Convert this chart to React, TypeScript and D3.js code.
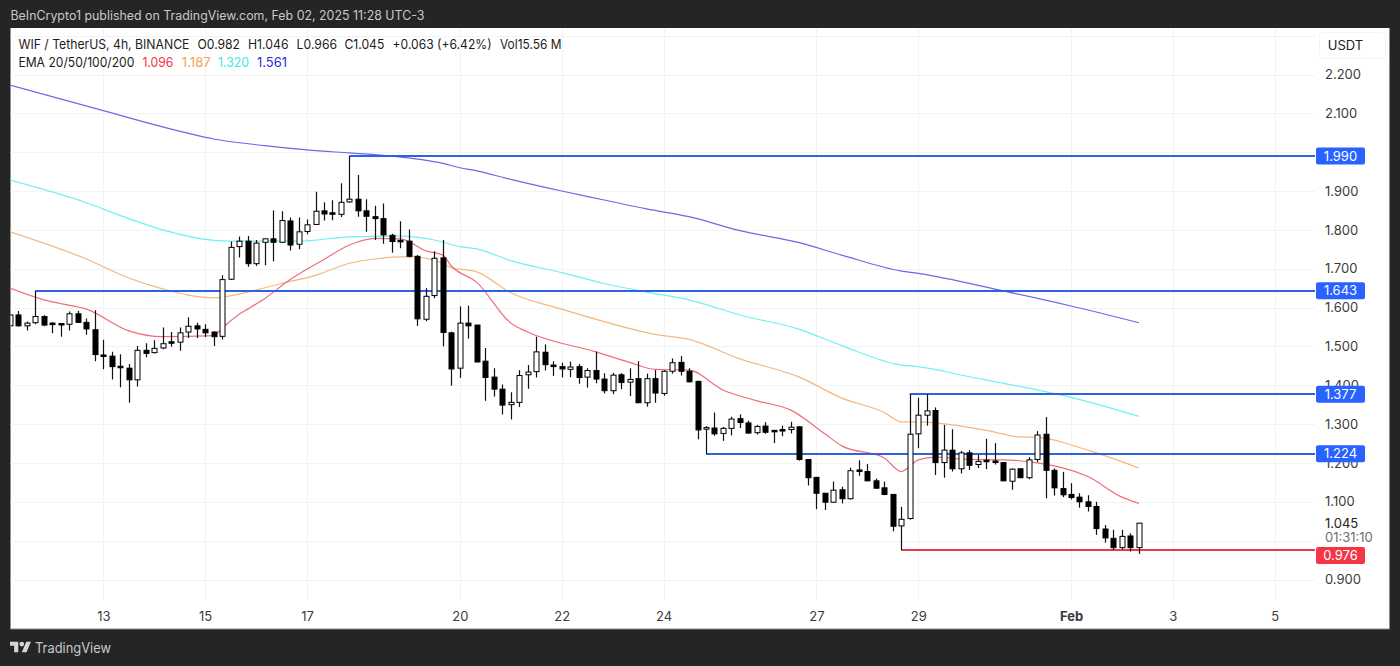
import { useEffect, useRef } from "react"
import * as d3 from "d3"

// candles, 4h bars, oldest first
const firstCandle = new Date(Date.UTC(2025, 0, 11, 4))
const opens = [
  1.553, 1.581, 1.553, 1.561, 1.577, 1.56, 1.559, 1.557, 1.584, 1.562,
  1.543, 1.478, 1.475, 1.449, 1.444, 1.414, 1.49, 1.484, 1.496, 1.512,
  1.511, 1.537, 1.553, 1.544, 1.537, 1.526, 1.673, 1.757, 1.771, 1.713,
  1.768, 1.777, 1.768, 1.823, 1.763, 1.796, 1.814, 1.849, 1.844, 1.84,
  1.872, 1.879, 1.849, 1.834, 1.829, 1.786, 1.773, 1.771, 1.732, 1.57,
  1.631, 1.728, 1.535, 1.444, 1.56, 1.555, 1.462, 1.421, 1.39, 1.35,
  1.356, 1.427, 1.435, 1.485, 1.452, 1.448, 1.441, 1.448, 1.421, 1.438,
  1.416, 1.386, 1.427, 1.408, 1.417, 1.355, 1.417, 1.379, 1.436, 1.459,
  1.436, 1.41, 1.287, 1.29, 1.276, 1.289, 1.314, 1.303, 1.278, 1.295,
  1.284, 1.286, 1.286, 1.293, 1.209, 1.163, 1.122, 1.099, 1.131, 1.108,
  1.182, 1.178, 1.154, 1.136, 1.119, 1.038, 1.057, 1.275, 1.323, 1.335,
  1.201, 1.233, 1.185, 1.226, 1.196, 1.207, 1.205, 1.201, 1.153, 1.185,
  1.162, 1.209, 1.274, 1.181, 1.134, 1.119, 1.112, 1.1, 1.088, 1.03,
  1.006, 0.982, 1.012, 0.982,
]
const highs = [
  1.583, 1.591, 1.564, 1.643, 1.58, 1.563, 1.559, 1.59, 1.591, 1.572,
  1.593, 1.517, 1.486, 1.48, 1.455, 1.501, 1.508, 1.516, 1.549, 1.537,
  1.549, 1.575, 1.561, 1.557, 1.539, 1.683, 1.77, 1.783, 1.784, 1.774,
  1.778, 1.85, 1.848, 1.832, 1.832, 1.827, 1.898, 1.871, 1.876, 1.92,
  1.99, 1.941, 1.879, 1.862, 1.868, 1.79, 1.822, 1.801, 1.735, 1.65,
  1.745, 1.774, 1.538, 1.603, 1.605, 1.555, 1.496, 1.444, 1.402, 1.382,
  1.439, 1.452, 1.525, 1.505, 1.462, 1.458, 1.461, 1.455, 1.444, 1.487,
  1.431, 1.432, 1.431, 1.444, 1.462, 1.43, 1.439, 1.439, 1.469, 1.475,
  1.444, 1.412, 1.295, 1.33, 1.293, 1.319, 1.325, 1.309, 1.298, 1.305,
  1.284, 1.296, 1.306, 1.294, 1.209, 1.164, 1.122, 1.152, 1.139, 1.188,
  1.207, 1.197, 1.16, 1.152, 1.119, 1.087, 1.377, 1.368, 1.377, 1.343,
  1.298, 1.287, 1.231, 1.233, 1.221, 1.262, 1.251, 1.201, 1.186, 1.186,
  1.215, 1.282, 1.318, 1.186, 1.177, 1.148, 1.122, 1.117, 1.1, 1.04,
  1.028, 1.028, 1.019, 1.046,
]
const lows = [
  1.553, 1.551, 1.541, 1.557, 1.552, 1.534, 1.525, 1.541, 1.56, 1.53,
  1.462, 1.441, 1.415, 1.395, 1.355, 1.397, 1.472, 1.482, 1.493, 1.499,
  1.489, 1.522, 1.522, 1.524, 1.501, 1.518, 1.671, 1.729, 1.705, 1.707,
  1.709, 1.719, 1.767, 1.747, 1.75, 1.789, 1.813, 1.824, 1.825, 1.833,
  1.87, 1.834, 1.795, 1.774, 1.764, 1.741, 1.753, 1.729, 1.553, 1.565,
  1.624, 1.5, 1.399, 1.419, 1.52, 1.459, 1.36, 1.371, 1.325, 1.312,
  1.344, 1.391, 1.42, 1.438, 1.424, 1.42, 1.421, 1.404, 1.394, 1.405,
  1.379, 1.377, 1.39, 1.372, 1.354, 1.345, 1.355, 1.373, 1.43, 1.425,
  1.407, 1.261, 1.224, 1.27, 1.257, 1.271, 1.29, 1.275, 1.273, 1.275,
  1.251, 1.269, 1.276, 1.206, 1.142, 1.081, 1.079, 1.097, 1.096, 1.106,
  1.167, 1.153, 1.134, 1.117, 1.024, 0.976, 1.054, 1.238, 1.296, 1.169,
  1.162, 1.178, 1.173, 1.182, 1.187, 1.184, 1.196, 1.153, 1.131, 1.161,
  1.158, 1.202, 1.109, 1.116, 1.112, 1.106, 1.085, 1.075, 1.015, 0.995,
  0.976, 0.978, 0.972, 0.966,
]
const closes = [
  1.581, 1.553, 1.56, 1.577, 1.555, 1.558, 1.557, 1.584, 1.562, 1.545,
  1.479, 1.475, 1.448, 1.446, 1.414, 1.49, 1.482, 1.495, 1.507, 1.51,
  1.535, 1.552, 1.545, 1.535, 1.525, 1.672, 1.755, 1.771, 1.713, 1.766,
  1.777, 1.768, 1.824, 1.761, 1.795, 1.813, 1.848, 1.841, 1.841, 1.871,
  1.879, 1.849, 1.835, 1.829, 1.787, 1.77, 1.771, 1.732, 1.571, 1.629,
  1.727, 1.536, 1.442, 1.56, 1.553, 1.46, 1.42, 1.39, 1.349, 1.356,
  1.425, 1.434, 1.486, 1.453, 1.448, 1.442, 1.447, 1.42, 1.438, 1.416,
  1.386, 1.426, 1.407, 1.415, 1.355, 1.417, 1.38, 1.436, 1.458, 1.436,
  1.409, 1.285, 1.291, 1.275, 1.289, 1.313, 1.304, 1.277, 1.294, 1.279,
  1.281, 1.283, 1.292, 1.209, 1.162, 1.122, 1.099, 1.13, 1.108, 1.18,
  1.179, 1.154, 1.135, 1.119, 1.037, 1.055, 1.274, 1.323, 1.334, 1.201,
  1.233, 1.185, 1.226, 1.194, 1.204, 1.204, 1.202, 1.154, 1.184, 1.162,
  1.208, 1.272, 1.181, 1.136, 1.118, 1.111, 1.1, 1.088, 1.031, 1.007,
  0.982, 1.011, 0.982, 1.045,
]

// EMA readings: [candle index, price]
const ema20: [number, number][] = [
  [0, 1.65], [4, 1.62], [6, 1.61], [9, 1.596], [14, 1.54], [18, 1.525], [24, 1.528], [25, 1.547],
  [27, 1.583], [28, 1.596], [30, 1.623], [33, 1.672], [37, 1.724], [40, 1.761], [43, 1.778], [46, 1.777],
  [49, 1.746], [51, 1.735], [52, 1.707], [55, 1.665], [59, 1.56], [61, 1.537], [69, 1.486], [73, 1.459],
  [76, 1.441], [80, 1.439], [84, 1.388], [88, 1.36], [92, 1.336], [96, 1.275], [98, 1.244], [103, 1.213],
  [105, 1.178], [107, 1.208], [109, 1.215], [113, 1.209], [117, 1.208], [121, 1.2], [127, 1.165], [131, 1.112], [133, 1.096],
]
const ema50: [number, number][] = [
  [0, 1.795], [9, 1.725], [14, 1.676], [18, 1.648], [24, 1.625], [28, 1.64], [32, 1.662], [36, 1.683],
  [40, 1.714], [43, 1.725], [47, 1.731], [50, 1.722], [52, 1.703], [55, 1.692], [59, 1.638], [65, 1.596],
  [70, 1.564], [76, 1.531], [80, 1.518], [86, 1.468], [93, 1.421], [98, 1.367], [103, 1.33], [105, 1.306],
  [107, 1.306], [115, 1.284], [119, 1.267], [121, 1.266], [127, 1.233], [133, 1.187],
]
const ema100: [number, number][] = [
  [0, 1.928], [9, 1.87], [14, 1.829], [18, 1.8], [24, 1.773], [26, 1.771], [34, 1.771], [40, 1.782],
  [46, 1.784], [50, 1.774], [53, 1.757], [55, 1.751], [59, 1.721], [65, 1.69], [70, 1.662], [75, 1.64],
  [80, 1.62], [86, 1.581], [93, 1.544], [98, 1.502], [105, 1.452], [107, 1.448], [113, 1.422], [121, 1.388],
  [125, 1.369], [133, 1.32],
]
const ema200: [number, number][] = [
  [0, 2.173], [11, 2.107], [18, 2.065], [24, 2.034], [30, 2.017], [35, 2.006], [40, 1.998], [45, 1.99],
  [51, 1.971], [53, 1.96], [55, 1.952], [59, 1.93], [65, 1.9], [70, 1.877], [75, 1.854], [80, 1.834],
  [86, 1.798], [93, 1.767], [98, 1.735], [105, 1.694], [107, 1.688], [117, 1.643], [125, 1.604], [133, 1.561],
]

// horizontal levels: [price, candle index where the line starts]
const supportLevels: [number, number][] = [[1.99, 40], [1.643, 3], [1.377, 106], [1.224, 82]]
const lowLevel: [number, number] = [0.976, 105]

const priceTicks = [2.2, 2.1, 1.9, 1.8, 1.7, 1.6, 1.5, 1.4, 1.3, 1.2, 1.1, 0.9]
const priceGrid = [2.3, 2.2, 2.1, 2.0, 1.9, 1.8, 1.7, 1.6, 1.5, 1.4, 1.3, 1.2, 1.1, 1.0, 0.9]
const dateTicks = [
  new Date(Date.UTC(2025, 0, 13)), new Date(Date.UTC(2025, 0, 15)), new Date(Date.UTC(2025, 0, 17)),
  new Date(Date.UTC(2025, 0, 20)), new Date(Date.UTC(2025, 0, 22)), new Date(Date.UTC(2025, 0, 24)),
  new Date(Date.UTC(2025, 0, 27)), new Date(Date.UTC(2025, 0, 29)), new Date(Date.UTC(2025, 1, 1)),
  new Date(Date.UTC(2025, 1, 3)), new Date(Date.UTC(2025, 1, 5)),
]

const font = "Inter, 'Noto Sans', sans-serif"

const App = () => {
  const svgRef = useRef<SVGSVGElement | null>(null)

  useEffect(() => {
    if (!svgRef.current) return
    const svg = d3.select(svgRef.current)
    svg.selectAll("*").remove()
    svg.style("font-family", font)

    const plot = { left: 10.5, right: 1389.5, top: 28, bottom: 629, axis: 1315, gridBottom: 600 }

    const x = d3.scaleUtc()
      .domain([new Date(Date.UTC(2025, 0, 13)), new Date(Date.UTC(2025, 1, 1))])
      .range([103.3, 1071])
    const y = d3.scaleLinear().domain([2.2, 0.9]).range([74.5, 579.5])
    const candleDate = (i: number) => d3.utcHour.offset(firstCandle, i * 4)
    const candleX = (i: number) => x(candleDate(i))

    // frame
    svg.append("rect").attr("width", 1400).attr("height", 666).attr("fill", "#252525")
    svg.append("rect")
      .attr("x", plot.left).attr("y", plot.top)
      .attr("width", plot.right - plot.left).attr("height", plot.bottom - plot.top)
      .attr("fill", "#fff")
    svg.append("path")
      .attr("d", `M${plot.left},${plot.bottom}H${plot.right}V${plot.top}`)
      .attr("fill", "none").attr("stroke", "#8c8c8c")

    svg.append("clipPath").attr("id", "plot-clip").append("rect")
      .attr("x", plot.left).attr("y", plot.top)
      .attr("width", plot.axis - plot.left).attr("height", plot.bottom - plot.top)

    // grid
    const grid = svg.append("g").attr("stroke", "#f2f3f5")
    priceGrid.forEach((p) => {
      grid.append("line")
        .attr("x1", plot.left).attr("x2", plot.axis)
        .attr("y1", Math.round(y(p)) + 0.5).attr("y2", Math.round(y(p)) + 0.5)
    })
    dateTicks.forEach((d) => {
      grid.append("line")
        .attr("x1", Math.round(x(d)) + 0.5).attr("x2", Math.round(x(d)) + 0.5)
        .attr("y1", plot.top).attr("y2", plot.gridBottom)
    })

    const chart = svg.append("g").attr("clip-path", "url(#plot-clip)")

    // EMA lines
    const emaLine = d3.line<[number, number]>()
      .x((d) => candleX(d[0]))
      .y((d) => y(d[1]))
      .curve(d3.curveMonotoneX)
    const emas: [[number, number][], string][] = [
      [ema200, "#6a6ae6"],
      [ema100, "#70f0f0"],
      [ema50, "#f6b67c"],
      [ema20, "#ee6f78"],
    ]
    emas.forEach(([values, color]) => {
      chart.append("path")
        .attr("d", emaLine(values))
        .attr("fill", "none")
        .attr("stroke", color)
        .attr("stroke-width", 1.2)
    })

    // levels go under the candles
    supportLevels.forEach(([price, start]) => {
      chart.append("line")
        .attr("x1", candleX(start)).attr("x2", plot.axis)
        .attr("y1", Math.round(y(price))).attr("y2", Math.round(y(price)))
        .attr("stroke", "#2f62e0").attr("stroke-width", 2)
    })
    chart.append("line")
      .attr("x1", candleX(lowLevel[1])).attr("x2", plot.axis)
      .attr("y1", Math.round(y(lowLevel[0]))).attr("y2", Math.round(y(lowLevel[0])))
      .attr("stroke", "#ea3a4c").attr("stroke-width", 2)

    // candles
    opens.forEach((open, i) => {
      const cx = Math.round(candleX(i)) + 0.5
      const close = closes[i]
      const up = close >= open
      const top = y(Math.max(open, close))
      const bottom = y(Math.min(open, close))
      chart.append("line")
        .attr("x1", cx).attr("x2", cx)
        .attr("y1", y(highs[i])).attr("y2", y(lows[i]))
        .attr("stroke", "#111").attr("stroke-width", 1.2)
      chart.append("rect")
        .attr("x", cx - 2.5).attr("width", 5)
        .attr("y", top).attr("height", Math.max(bottom - top, 1.5))
        .attr("fill", up ? "#fff" : "#000")
        .attr("stroke", "#000").attr("stroke-width", 1)
    })

    // price axis
    const priceAxis = svg.append("g")
      .attr("transform", `translate(1325,0)`)
      .call(d3.axisRight(y).tickValues(priceTicks).tickFormat(d3.format(".3f")).tickSize(0).tickPadding(0))
    priceAxis.select(".domain").remove()
    priceAxis.selectAll("text")
      .attr("font-family", font).attr("font-size", 13).attr("fill", "#3b3b3b")

    // date axis
    const dateAxis = svg.append("g")
      .attr("transform", `translate(0,${611.5})`)
      .call(d3.axisBottom(x).tickValues(dateTicks)
        .tickFormat((d) => ((d as Date).getUTCDate() === 1 ? "Feb" : String((d as Date).getUTCDate())))
        .tickSize(0).tickPadding(0))
    dateAxis.select(".domain").remove()
    dateAxis.selectAll("text")
      .attr("font-family", font).attr("font-size", 13).attr("fill", "#3b3b3b")
      .attr("font-weight", (d: any) => (d.getUTCDate() === 1 ? 700 : 400))

    // price pills
    const pill = (price: number, color: string) => {
      const py = y(price)
      svg.append("rect")
        .attr("x", 1316).attr("y", py - 8.5).attr("width", 49).attr("height", 17)
        .attr("rx", 2).attr("fill", color)
      svg.append("text")
        .attr("x", 1340.5).attr("y", py).attr("dy", "0.35em")
        .attr("text-anchor", "middle").attr("font-size", 13).attr("fill", "#fff")
        .text(d3.format(".3f")(price))
    }
    supportLevels.forEach(([price]) => pill(price, "#2962ff"))
    // the low pill sits just under its line in the original
    svg.append("rect")
      .attr("x", 1316).attr("y", y(lowLevel[0]) - 3).attr("width", 49).attr("height", 17)
      .attr("rx", 2).attr("fill", "#f23645")
    svg.append("text")
      .attr("x", 1340.5).attr("y", y(lowLevel[0]) + 5.5).attr("dy", "0.35em")
      .attr("text-anchor", "middle").attr("font-size", 13).attr("fill", "#fff")
      .text(d3.format(".3f")(lowLevel[0]))

    // last price and countdown
    svg.append("text").attr("x", 1325).attr("y", 523).attr("dy", "0.35em")
      .attr("font-size", 13).attr("fill", "#222").text(d3.format(".3f")(closes[closes.length - 1]))
    svg.append("text").attr("x", 1325).attr("y", 537).attr("dy", "0.35em")
      .attr("font-size", 13).attr("fill", "#6f6f6f").text("01:31:10")

    // currency button
    svg.append("rect")
      .attr("x", 1319.5).attr("y", 32.5).attr("width", 66).attr("height", 26)
      .attr("rx", 4).attr("fill", "#fff").attr("stroke", "#f2f3f6")
    svg.append("text").attr("x", 1345.5).attr("y", 45).attr("dy", "0.35em")
      .attr("text-anchor", "middle").attr("font-size", 13).attr("fill", "#222").text("USDT")

    // header texts, fitted to the widths they take in the original
    const label = (tx: number, ty: number, w: number, text: string, color: string, size = 13) => {
      svg.append("text").attr("x", tx).attr("y", ty).attr("dy", "0.35em")
        .attr("font-size", size).attr("fill", color)
        .attr("textLength", w).attr("lengthAdjust", "spacingAndGlyphs")
        .text(text)
    }
    label(10.5, 16, 414, "BeInCrypto1 published on TradingView.com, Feb 02, 2025 11:28 UTC-3", "#c9c9c9", 12.5)
    const row1: [number, number, string][] = [
      [18.4, 171, "WIF / TetherUS, 4h, BINANCE"], [197.5, 42.5, "O0.982"], [248, 40.5, "H1.046"], [296.6, 40.5, "L0.966"],
      [344.4, 40, "C1.045"], [392.6, 99, "+0.063 (+6.42%)"], [500, 61.5, "Vol15.56 M"],
    ]
    row1.forEach(([tx, w, text]) => label(tx, 44, w, text, "#1c1c1c"))
    label(18.4, 62, 116, "EMA 20/50/100/200", "#1c1c1c")
    const row2: [number, number, string, string][] = [
      [142.4, 31, "1.096", "#f23645"], [181.8, 29, "1.187", "#f7a24f"], [218, 31, "1.320", "#3fe8ea"], [257, 30, "1.561", "#2a2ae0"],
    ]
    row2.forEach(([tx, w, text, color]) => label(tx, 62, w, text, color))

    // footer logo
    const logo = svg.append("g").attr("transform", "translate(10,639.3) scale(0.59)").attr("fill", "#d6d6d6")
    logo.append("path").attr("d", "M14 22H7V11H0V4h14v18zM28 22h-8l7.5-18h8L28 22z")
    logo.append("circle").attr("cx", 20).attr("cy", 8).attr("r", 4)
    label(35, 648, 76, "TradingView", "#c9c9c9", 14)
  }, [])

  return (
    <svg
      ref={svgRef}
      width={1400}
      height={666}
      style={{ position: "fixed", left: 0, top: 0, display: "block" }}
    />
  )
}

export default App
